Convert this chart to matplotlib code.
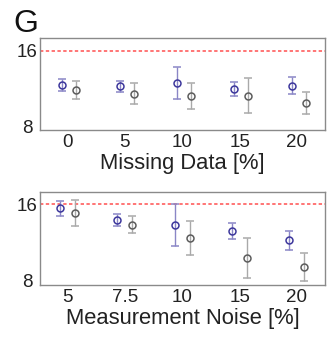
import matplotlib
matplotlib.use("Agg")
import matplotlib.pyplot as plt
import numpy as np

plt.rcParams['font.family'] = ['Liberation Sans', 'DejaVu Sans']

# ---- data ----
missing_labels = ["0", "5", "10", "15", "20"]
missing_blue = [12.39, 12.26, 12.56, 12.00, 12.32]
missing_blue_err = [0.60, 0.58, 1.68, 0.74, 0.88]
missing_grey = [11.86, 11.48, 11.25, 11.25, 10.48]
missing_grey_err = [0.95, 1.09, 1.39, 1.84, 1.14]

noise_labels = ["5", "7.5", "10", "15", "20"]
noise_blue = [15.59, 14.35, 13.82, 13.18, 12.23]
noise_blue_err = [0.77, 0.62, 2.17, 0.86, 1.00]
noise_grey = [15.10, 13.87, 12.46, 10.36, 9.40]
noise_grey_err = [1.37, 0.91, 1.82, 2.14, 1.47]

reference_level = 16
y_ticks = [8, 16]

# ---- style ----
BLUE_M = '#3d379c'
BLUE_E = '#8a86c6'
GREY_M = '#5c5c5c'
GREY_E = '#a9a9a9'
RED = '#ff4f4f'
SPINE = '#8a8a8a'

fig = plt.figure(figsize=(3.28, 3.38), dpi=100)

def panel(rect, labels, yb, eb, yg, eg, xlabel, off_b, off_g, ylim):
    ax = fig.add_axes(rect)
    x = np.arange(len(labels))
    ax.axhline(reference_level, color=RED, ls=(0, (2.2, 1.6)), lw=1.1, zorder=1)
    ax.errorbar(x + off_b, yb, yerr=eb, fmt='o', ms=5, mfc='none', mec=BLUE_M,
                mew=1.1, ecolor=BLUE_E, elinewidth=1.0, capsize=2.6, capthick=1.0, zorder=3)
    ax.errorbar(x + off_g, yg, yerr=eg, fmt='o', ms=5, mfc='none', mec=GREY_M,
                mew=1.1, ecolor=GREY_E, elinewidth=1.0, capsize=2.6, capthick=1.0, zorder=3)
    ax.set_xlim(-0.475, 4.49)
    ax.set_ylim(*ylim)
    ax.set_xticks(x)
    ax.set_xticklabels(labels)
    ax.set_yticks(y_ticks)
    ax.tick_params(axis='x', length=0, pad=3.0, labelsize=13.5, colors='#222222')
    ax.tick_params(axis='y', length=0, pad=9.2, labelsize=13.5, colors='#222222')
    for lab in ax.get_yticklabels():
        lab.set_horizontalalignment('center')
    for s in ax.spines.values():
        s.set_color(SPINE)
        s.set_linewidth(1.0)
    ax.set_xlabel(xlabel, fontsize=15.8, labelpad=1.0, color='#222222')
    return ax

panel([0.1229, 0.6154, 0.868, 0.2731], missing_labels, missing_blue, missing_blue_err,
      missing_grey, missing_grey_err, "Missing Data [%]", -0.09, 0.155, (7.65, 17.37))
panel([0.1229, 0.1568, 0.868, 0.2743], noise_labels, noise_blue, noise_blue_err,
      noise_grey, noise_grey_err, "Measurement Noise [%]", -0.13, 0.13, (7.53, 17.27))

fig.text(13 / 328, 1 - 32 / 338, "G", fontsize=23, va='baseline', ha='left', color='#111111')

fig.savefig("out.png", dpi=100)
